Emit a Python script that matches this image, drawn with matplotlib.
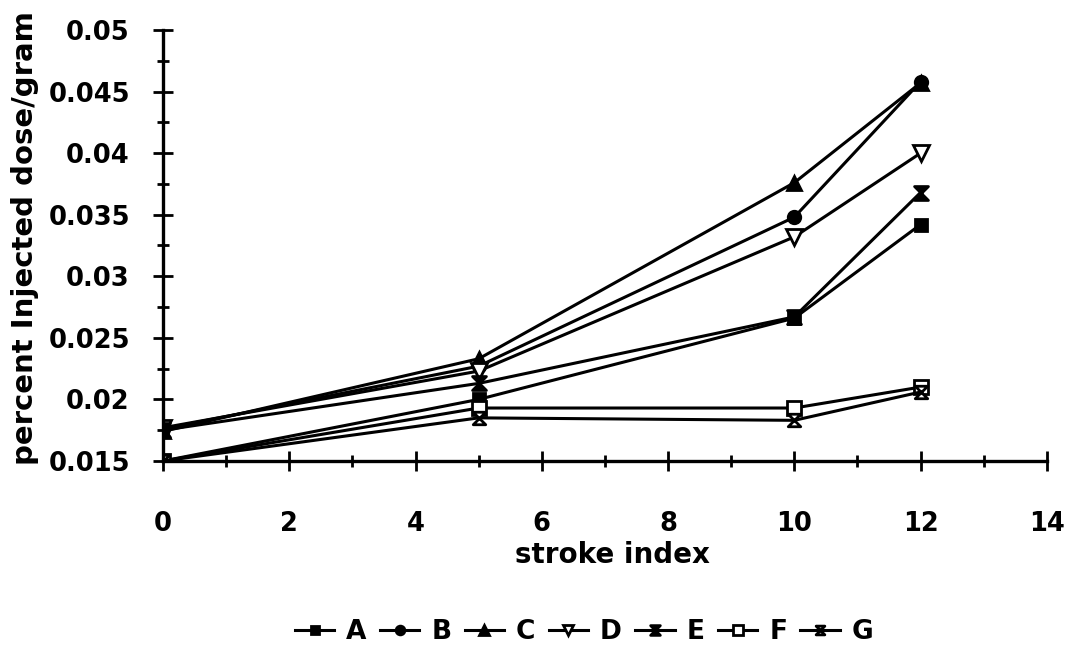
import numpy as np
import matplotlib.pyplot as plt
from matplotlib.ticker import MultipleLocator, FormatStrFormatter
from matplotlib.path import Path

plt.rcParams['font.family'] = ['DejaVu Sans']
plt.rcParams['font.weight'] = 'bold'

# stroke index values
stroke = [0, 5, 10, 12]

# percent injected dose/gram per group
A = [0.0150, 0.0200, 0.0266, 0.0342]
B = [0.0176, 0.0227, 0.0348, 0.0458]
C = [0.0174, 0.0233, 0.0376, 0.0457]
D = [0.0177, 0.0223, 0.0332, 0.0400]
E = [0.0175, 0.0213, 0.0267, 0.0368]
F = [0.0150, 0.0193, 0.0193, 0.0210]
G = [0.0150, 0.0185, 0.0183, 0.0206]

labels = ['A', 'B', 'C', 'D', 'E', 'F', 'G']
series = [A, B, C, D, E, F, G]

hourglass = Path([(-1, 1), (1, 1), (-1, -1), (1, -1), (-1, 1)],
                 [Path.MOVETO, Path.LINETO, Path.LINETO, Path.LINETO, Path.CLOSEPOLY])

styles = [
    dict(marker='s', mfc='black', ms=9),
    dict(marker='o', mfc='black', ms=9),
    dict(marker='^', mfc='black', ms=10),
    dict(marker='v', mfc='white', ms=11),
    dict(marker=hourglass, mfc='black', ms=10),
    dict(marker='s', mfc='white', ms=10),
    dict(marker=hourglass, mfc='white', ms=9),
]

fig = plt.figure(figsize=(10.66, 6.52), dpi=100)
ax = fig.add_axes([0.153, 0.293, 0.829, 0.661])

for lab, ys, st in zip(labels, series, styles):
    ax.plot(stroke, ys, color='black', lw=2.2, mec='black', mew=2, label=lab, **st)

ax.set_xlim(0, 14)
ax.set_ylim(0.015, 0.05)
ax.xaxis.set_major_locator(MultipleLocator(2))
ax.xaxis.set_minor_locator(MultipleLocator(1))
ax.yaxis.set_major_locator(MultipleLocator(0.005))
ax.yaxis.set_minor_locator(MultipleLocator(0.0025))
ax.yaxis.set_major_formatter(FormatStrFormatter('%g'))

for s in ['top', 'right']:
    ax.spines[s].set_visible(False)
for s in ['left', 'bottom']:
    ax.spines[s].set_linewidth(2.4)
ax.tick_params(which='major', direction='inout', length=14, width=2, labelsize=18.5)
ax.tick_params(which='minor', direction='inout', length=8, width=2)
ax.tick_params(axis='x', which='major', pad=29)
ax.tick_params(axis='y', which='major', pad=17)
for t in ax.get_xticklabels() + ax.get_yticklabels():
    t.set_fontweight('bold')

ax.set_xlabel('stroke index', fontsize=20, fontweight='bold')
ax.set_ylabel('percent Injected dose/gram', fontsize=21, fontweight='bold')
ax.xaxis.set_label_coords(0.508, -0.185)
ax.yaxis.set_label_coords(-0.14, 0.517)

fig.legend(loc='center', bbox_to_anchor=(0.548, 0.03), ncol=7, frameon=False,
           fontsize=19, handlelength=1.5, handletextpad=0.45, columnspacing=0.5,
           markerscale=0.7)

fig.savefig('out.png', dpi=100)
